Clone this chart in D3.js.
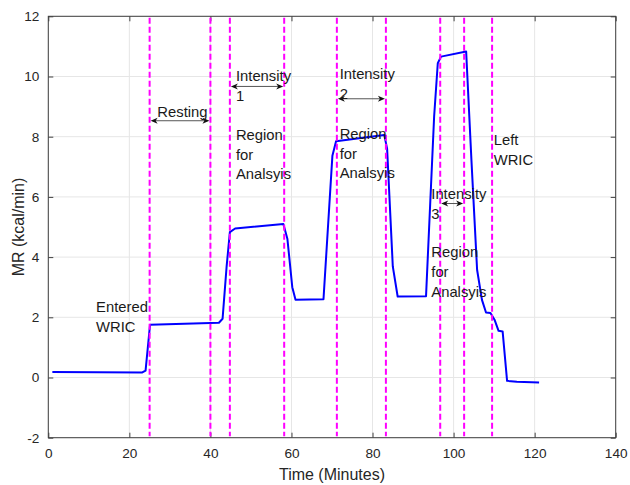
<!DOCTYPE html>
<html>
<head>
<meta charset="utf-8">
<script src="https://cdn.jsdelivr.net/npm/d3@7"></script>
<style>
  body { margin: 0; background: #fff; }
  text { font-family: "Liberation Sans", Arial, sans-serif; }
</style>
</head>
<body>
<svg id="chart" width="630" height="485"></svg>
<script>
// MR trace (minutes, kcal/min)
const timeMin = [1, 23.2, 24.0, 25.1, 42.1, 43.0, 44.0, 44.8, 46.1, 58.0, 59.0, 60.2, 61.0, 67.9, 70.1, 71.0, 82.9, 83.6, 85.0, 86.2, 93.2, 95.2, 96.1, 96.9, 103.1, 104.4, 105.8, 107.0, 108.0, 109.1, 110.1, 111.1, 112.1, 113.2, 115.6, 121.1]
const mrValues = [0.18, 0.17, 0.23, 1.75, 1.82, 1.95, 3.69, 4.83, 4.95, 5.10, 4.6, 3.0, 2.58, 2.6, 7.37, 7.85, 8.06, 7.6, 3.69, 2.69, 2.7, 8.67, 10.44, 10.66, 10.83, 7.23, 3.58, 2.58, 2.16, 2.14, 1.92, 1.55, 1.53, -0.11, -0.14, -0.17]

// vertical markers
const markerTimes = [25, 40, 44.8, 58.2, 71.2, 83.3, 96.7, 102.6, 109.5]

// double arrows [from, to, level]
const arrowFrom = [25, 44.8, 71.2, 96.7]
const arrowTo = [40, 58.2, 83.3, 102.6]
const arrowLevel = [8.53, 9.67, 9.26, 5.78]

// text annotations
const noteLines = [['Resting'], ['Intensity', '1'], ['Region', 'for', 'Analsyis'], ['Intensity', '2'], ['Region', 'for', 'Analsyis'], ['Left', 'WRIC'], ['Intensity', '3'], ['Region', 'for', 'Analsyis'], ['Entered', 'WRIC']]
const noteX = [26.9, 46.3, 46.3, 71.9, 71.9, 109.9, 94.5, 94.5, 11.8]
const noteY = [8.65, 9.86, 7.9, 9.92, 7.93, 7.73, 5.93, 3.99, 2.16]

const xTicks = [0, 20, 40, 60, 80, 100, 120, 140]
const yTicks = [-2, 0, 2, 4, 6, 8, 10, 12]

const svg = d3.select('#chart')
const x = d3.scaleLinear().domain([0, 140]).range([48.3, 615.7])
const y = d3.scaleLinear().domain([-2, 12]).range([437.7, 16.3])
const [x0, x1] = x.range()
const [y0, y1] = y.range()

// grid
const grid = svg.append('g').attr('stroke', '#e6e6e6').attr('stroke-width', 1)
xTicks.forEach(t => grid.append('line').attr('x1', x(t)).attr('x2', x(t)).attr('y1', y0).attr('y2', y1))
yTicks.forEach(t => grid.append('line').attr('y1', y(t)).attr('y2', y(t)).attr('x1', x0).attr('x2', x1))

// axes, ticks pointing inwards, mirrored on top/right
const axisColor = '#404040'
const fmt = d => String(d) // plain hyphen for negatives, like MATLAB
const styleAxis = g => {
  g.select('.domain').remove()
  g.selectAll('.tick line').attr('stroke', axisColor)
  g.selectAll('.tick text').attr('fill', '#262626').style('font-size', '13.6px')
}
svg.append('g').attr('transform', `translate(0,${y0})`)
  .call(d3.axisBottom(x).tickValues(xTicks).tickFormat(fmt).tickSizeInner(-5).tickSizeOuter(0).tickPadding(11))
  .call(styleAxis)
svg.append('g').attr('transform', `translate(0,${y1})`)
  .call(d3.axisTop(x).tickValues(xTicks).tickSizeInner(-5).tickSizeOuter(0).tickFormat(''))
  .call(styleAxis)
svg.append('g').attr('transform', `translate(${x0},0)`)
  .call(d3.axisLeft(y).tickValues(yTicks).tickFormat(fmt).tickSizeInner(-5).tickSizeOuter(0).tickPadding(9))
  .call(styleAxis)
svg.append('g').attr('transform', `translate(${x1},0)`)
  .call(d3.axisRight(y).tickValues(yTicks).tickSizeInner(-5).tickSizeOuter(0).tickFormat(''))
  .call(styleAxis)
svg.append('rect').attr('x', x0).attr('y', y1).attr('width', x1 - x0).attr('height', y0 - y1)
  .attr('fill', 'none').attr('stroke', axisColor).attr('stroke-width', 1)

// axis labels
svg.append('text').attr('x', 332).attr('y', 480).attr('text-anchor', 'middle')
  .attr('fill', '#262626').style('font-size', '16px').text('Time (Minutes)')
svg.append('text').attr('transform', `translate(24,${(y0 + y1) / 2}) rotate(-90)`).attr('text-anchor', 'middle')
  .attr('fill', '#262626').style('font-size', '16px').text('MR (kcal/min)')

// MR line
const line = d3.line().x((d, i) => x(timeMin[i])).y(d => y(d))
svg.append('path').datum(mrValues).attr('d', line)
  .attr('fill', 'none').attr('stroke', '#0000ff').attr('stroke-width', 2).attr('stroke-linejoin', 'round')

// magenta dashed markers
svg.append('g').selectAll('line').data(markerTimes).join('line')
  .attr('x1', d => x(d)).attr('x2', d => x(d)).attr('y1', y(11.95)).attr('y2', y(-1.95))
  .attr('stroke', '#ff00ff').attr('stroke-width', 2).attr('stroke-dasharray', '6,3')

// double arrows
const head = (px, py, dir) => {
  const len = 7, half = 3, notch = 2
  return `M${px},${py}L${px + dir * len},${py - half}L${px + dir * (len - notch)},${py}L${px + dir * len},${py + half}Z`
}
const arrows = svg.append('g')
arrowFrom.forEach((a, i) => {
  const xa = x(a) + 1, xb = x(arrowTo[i]) - 1, yy = y(arrowLevel[i])
  arrows.append('line').attr('x1', xa + 4).attr('x2', xb - 4).attr('y1', yy).attr('y2', yy)
    .attr('stroke', '#555').attr('stroke-width', 1)
  arrows.append('path').attr('d', head(xa, yy, 1)).attr('fill', '#111')
  arrows.append('path').attr('d', head(xb, yy, -1)).attr('fill', '#111')
})

// notes
const notes = svg.append('g').attr('fill', '#1a1a1a').style('font-size', '14.8px')
noteLines.forEach((lines, i) => {
  const t = notes.append('text').attr('x', x(noteX[i])).attr('y', y(noteY[i]))
  lines.forEach((s, j) => t.append('tspan').attr('x', x(noteX[i])).attr('dy', j === 0 ? 0 : 19.8).text(s))
})
</script>
</body>
</html>
